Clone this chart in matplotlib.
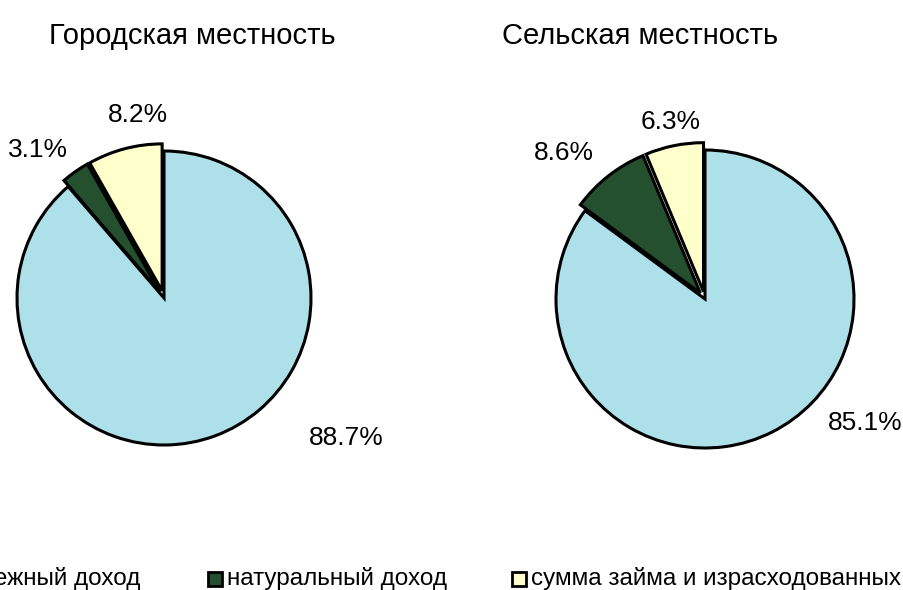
import matplotlib.pyplot as plt
from matplotlib.patches import Rectangle

plt.rcParams["font.family"] = ["Liberation Sans", "DejaVu Sans"]

categories = ["денежный доход", "натуральный доход",
              "сумма займа и израсходованных сбережений"]
titles = ["Городская местность", "Сельская местность"]
urban = [88.7, 3.1, 8.2]
rural = [85.1, 8.6, 6.3]
colors = ["#ade0e9", "#24502f", "#ffffcc"]

W, H = 904, 590
fig = plt.figure(figsize=(W / 100, H / 100), dpi=100)

# pie centres / radii in pixels, label positions in pie-radius units
pies = [
    (urban, 164, 298, 147, [(1.238, -0.952), (-0.857, 1.007), (-0.177, 1.245)], 192),
    (rural, 705, 299, 149, [(1.074, -0.832), (-0.946, 0.98), (-0.228, 1.188)], 640),
]

lim = 1.3
for vals, cx, cy, r, lab_pos, tx in pies:
    ax = fig.add_axes([(cx - lim * r) / W, (H - cy - lim * r) / H,
                       2 * lim * r / W, 2 * lim * r / H])
    ax.pie(vals, colors=colors, startangle=90, counterclock=False,
           explode=[0, 0.05, 0.05],
           wedgeprops=dict(edgecolor="black", linewidth=2.2))
    ax.set_xlim(-lim, lim)
    ax.set_ylim(-lim, lim)
    ax.set_aspect("equal")
    ax.axis("off")
    for v, (lx, ly) in zip(vals, lab_pos):
        ax.text(lx, ly, f"{v:.1f}%", ha="center", va="center", fontsize=19)

for t, (_, _, _, _, _, tx) in zip(titles, pies):
    fig.text(tx / W, 1 - 36 / H, t, ha="center", va="center", fontsize=21)

# legend along the bottom edge (cropped at both sides, as in the source)
for i, (name, c) in enumerate(zip(categories, colors)):
    x0 = 208 + (i - 1) * 304
    fig.patches.append(Rectangle((x0 / W, 1 - 586 / H), 14 / W, 14 / H,
                                 transform=fig.transFigure, facecolor=c,
                                 edgecolor="black", linewidth=2))
    if i == 0:
        fig.text(140 / W, 1 - 578 / H, name, ha="right", va="center",
                 fontsize=17.5)
    else:
        fig.text((x0 + 19) / W, 1 - 578 / H, name, ha="left", va="center",
                 fontsize=17.5)

fig.savefig("out.png", dpi=100)
